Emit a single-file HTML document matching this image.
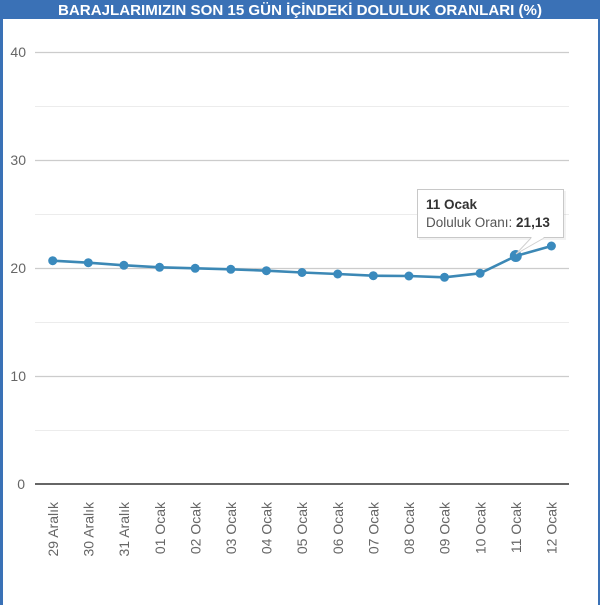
<!DOCTYPE html>
<html>
<head>
<meta charset="utf-8">
<style>
  html, body { margin:0; padding:0; background:#fff; }
  body { width:600px; height:605px; overflow:hidden; }
  svg { display:block; font-family:"Liberation Sans", Arial, sans-serif; }
</style>
</head>
<body>
<svg width="600" height="605" viewBox="0 0 600 605" xmlns="http://www.w3.org/2000/svg">
  <rect x="0" y="0" width="600" height="605" fill="#ffffff"/>
  <!-- borders -->
  <rect x="0" y="0" width="600" height="19" fill="#3a71b6"/>
  <rect x="0" y="0" width="3" height="605" fill="#3a71b6"/>
  <rect x="598" y="0" width="2" height="605" fill="#3a71b6"/>
  <text x="300" y="15" text-anchor="middle" fill="#ffffff" font-weight="bold" font-size="15" textLength="484" lengthAdjust="spacingAndGlyphs">BARAJLARIMIZIN SON 15 GÜN İÇİNDEKİ DOLULUK ORANLARI (%)</text>

  <!-- minor gridlines -->
  <g stroke="#ececec" stroke-width="1">
    <line x1="35" y1="106.5" x2="569" y2="106.5"/>
    <line x1="35" y1="214.5" x2="569" y2="214.5"/>
    <line x1="35" y1="322.5" x2="569" y2="322.5"/>
    <line x1="35" y1="430.5" x2="569" y2="430.5"/>
  </g>
  <!-- major gridlines -->
  <g stroke="#cccccc" stroke-width="1.2">
    <line x1="35" y1="52.5" x2="569" y2="52.5"/>
    <line x1="35" y1="160.5" x2="569" y2="160.5"/>
    <line x1="35" y1="268.5" x2="569" y2="268.5"/>
    <line x1="35" y1="376.5" x2="569" y2="376.5"/>
  </g>
  <line x1="35" y1="484" x2="569" y2="484" stroke="#333333" stroke-width="1.4"/>

  <!-- y labels -->
  <g fill="#666666" font-size="14" text-anchor="end">
    <text x="26" y="57">40</text>
    <text x="26" y="165">30</text>
    <text x="26" y="273">20</text>
    <text x="26" y="381">10</text>
    <text x="25" y="489">0</text>
  </g>

  <!-- x labels -->
  <g fill="#666666" font-size="14" text-anchor="end">
    <text transform="translate(58,502) rotate(-90)">29 Aralık</text>
    <text transform="translate(93.5,502) rotate(-90)">30 Aralık</text>
    <text transform="translate(129,502) rotate(-90)">31 Aralık</text>
    <text transform="translate(164.8,502) rotate(-90)">01 Ocak</text>
    <text transform="translate(200.4,502) rotate(-90)">02 Ocak</text>
    <text transform="translate(236,502) rotate(-90)">03 Ocak</text>
    <text transform="translate(271.6,502) rotate(-90)">04 Ocak</text>
    <text transform="translate(307.2,502) rotate(-90)">05 Ocak</text>
    <text transform="translate(342.9,502) rotate(-90)">06 Ocak</text>
    <text transform="translate(378.5,502) rotate(-90)">07 Ocak</text>
    <text transform="translate(414.1,502) rotate(-90)">08 Ocak</text>
    <text transform="translate(449.7,502) rotate(-90)">09 Ocak</text>
    <text transform="translate(485.3,502) rotate(-90)">10 Ocak</text>
    <text transform="translate(521,502) rotate(-90)">11 Ocak</text>
    <text transform="translate(556.6,502) rotate(-90)">12 Ocak</text>
  </g>

  <!-- series -->
  <polyline fill="none" stroke="#3c88b5" stroke-width="2.6" stroke-linejoin="round"
    points="52.7,260.7 88.3,262.7 123.9,265.3 159.6,267.3 195.2,268.3 230.8,269.3 266.4,270.7 302,272.5 337.7,274 373.3,275.7 408.9,276 444.5,277.3 480.1,273.3 515.8,256 551.4,246"/>
  <g fill="#3a8abd">
    <circle cx="52.7" cy="260.7" r="4.5"/>
    <circle cx="88.3" cy="262.7" r="4.5"/>
    <circle cx="123.9" cy="265.3" r="4.5"/>
    <circle cx="159.6" cy="267.3" r="4.5"/>
    <circle cx="195.2" cy="268.3" r="4.5"/>
    <circle cx="230.8" cy="269.3" r="4.5"/>
    <circle cx="266.4" cy="270.7" r="4.5"/>
    <circle cx="302" cy="272.5" r="4.5"/>
    <circle cx="337.7" cy="274" r="4.5"/>
    <circle cx="373.3" cy="275.7" r="4.5"/>
    <circle cx="408.9" cy="276" r="4.5"/>
    <circle cx="444.5" cy="277.3" r="4.5"/>
    <circle cx="480.1" cy="273.3" r="4.5"/>
    <circle cx="515.8" cy="256" r="6"/>
    <circle cx="551.4" cy="246" r="4.5"/>
  </g>

  <!-- tooltip -->
  <rect x="419" y="191" width="147" height="49" fill="#000" opacity="0.05"/>
  <path d="M531,238 L516,254 L544,238" fill="#ffffff" stroke="#d0d0d0" stroke-width="1"/>
  <rect x="417.5" y="189.5" width="146" height="48" fill="#ffffff" stroke="#c8c8c8" stroke-width="1"/>
  <line x1="531.5" y1="237.5" x2="543.5" y2="237.5" stroke="#ffffff" stroke-width="1.5"/>
  <text x="426" y="209" font-size="13.5" font-weight="bold" fill="#333333">11 Ocak</text>
  <text x="426" y="227" font-size="13.5" fill="#555555">Doluluk Oranı: <tspan font-weight="bold" fill="#333333">21,13</tspan></text>
</svg>
</body>
</html>
